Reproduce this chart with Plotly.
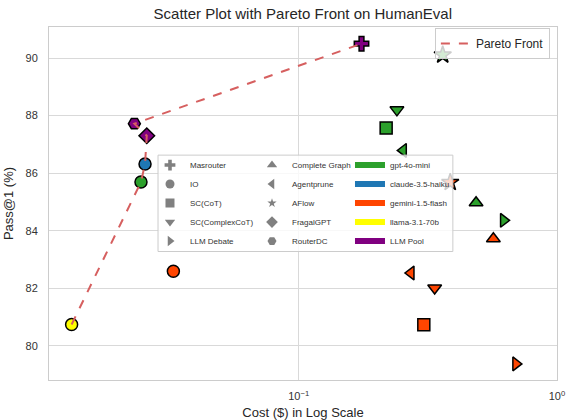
import plotly.graph_objects as go

# ---------------- data ----------------
methods = ["Masrouter", "IO", "SC(CoT)", "SC(ComplexCoT)", "LLM Debate",
           "Complete Graph", "Agentprune", "AFlow", "FragalGPT", "RouterDC"]
models = ["gpt-4o-mini", "claude-3.5-haiku", "gemini-1.5-flash", "llama-3.1-70b", "LLM Pool"]

point_method = ["Masrouter", "AFlow", "SC(ComplexCoT)", "SC(CoT)", "Agentprune",
                "AFlow", "Complete Graph", "LLM Debate", "Complete Graph", "Agentprune",
                "SC(ComplexCoT)", "SC(CoT)", "LLM Debate", "IO", "IO",
                "RouterDC", "FragalGPT", "IO", "IO"]
point_model = ["LLM Pool", "gpt-4o-mini", "gpt-4o-mini", "gpt-4o-mini", "gpt-4o-mini",
               "gemini-1.5-flash", "gpt-4o-mini", "gpt-4o-mini", "gemini-1.5-flash", "gemini-1.5-flash",
               "gemini-1.5-flash", "gemini-1.5-flash", "gemini-1.5-flash", "gemini-1.5-flash", "llama-3.1-70b",
               "LLM Pool", "LLM Pool", "claude-3.5-haiku", "gpt-4o-mini"]
point_cost = [0.175, 0.361, 0.240, 0.218, 0.254,
              0.386, 0.486, 0.621, 0.567, 0.272,
              0.336, 0.305, 0.693, 0.0327, 0.0132,
              0.0231, 0.0258, 0.0254, 0.0245]
point_pass = [90.50, 90.11, 88.20, 87.57, 86.79,
              85.68, 84.97, 84.36, 83.72, 82.53,
              82.01, 80.73, 79.37, 82.59, 80.74,
              87.72, 87.30, 86.32, 85.69]

# Pareto front members (method, model), in drawing order
pareto_method = ["IO", "IO", "IO", "FragalGPT", "RouterDC", "Masrouter"]
pareto_model = ["llama-3.1-70b", "gpt-4o-mini", "claude-3.5-haiku", "LLM Pool", "LLM Pool", "LLM Pool"]

x_tickvals = [0.1, 1]
x_ticktext = ["10<sup>−1</sup>", "10<sup>0</sup>"]
y_tickvals = [80, 82, 84, 86, 88, 90]

# ---------------- styles ----------------
symbol_map = {
    "Masrouter": "cross", "IO": "circle", "SC(CoT)": "square",
    "SC(ComplexCoT)": "triangle-down", "LLM Debate": "triangle-right",
    "Complete Graph": "triangle-up", "Agentprune": "triangle-left",
    "AFlow": "star", "FragalGPT": "diamond", "RouterDC": "hexagon2",
}
color_map = {
    "gpt-4o-mini": "#2ca02c", "claude-3.5-haiku": "#1f77b4",
    "gemini-1.5-flash": "#ff4500", "llama-3.1-70b": "#ffff00", "LLM Pool": "#800080",
}
FONT = "Arial, Liberation Sans, sans-serif"

fig = go.Figure()

# data points, one trace per method
for m in methods:
    idx = [i for i, pm in enumerate(point_method) if pm == m]
    if not idx:
        continue
    fig.add_trace(go.Scatter(
        x=[point_cost[i] for i in idx],
        y=[point_pass[i] for i in idx],
        mode="markers",
        marker=dict(symbol=symbol_map[m], size=12 if m != "AFlow" else 13,
                    color=[color_map[point_model[i]] for i in idx],
                    line=dict(color="black", width=1.5)),
        showlegend=False, hoverinfo="x+y+name", name=m,
    ))

# pareto front line
lookup = {(point_method[i], point_model[i]): i for i in range(len(point_method))}
p_idx = [lookup[(a, b)] for a, b in zip(pareto_method, pareto_model)]
fig.add_trace(go.Scatter(
    x=[point_cost[i] for i in p_idx], y=[point_pass[i] for i in p_idx],
    mode="lines", line=dict(color="#d65f5f", width=2, dash="dash"),
    name="Pareto Front", legend="legend",
))

# legend-only entries
for k, m in enumerate(methods):
    fig.add_trace(go.Scatter(
        x=[None], y=[None], mode="markers", name=m,
        marker=dict(symbol=symbol_map[m], size=9 if m != "AFlow" else 7, color="#808080"),
        legend="legend2" if k < 5 else "legend3",
    ))
for md in models:
    fig.add_trace(go.Scatter(
        x=[None], y=[None], mode="none", fill="toself", fillcolor=color_map[md],
        name=md, legend="legend4",
    ))

small_legend = dict(font=dict(size=8, family=FONT, color="#333333"),
                    bgcolor="rgba(0,0,0,0)", borderwidth=0,
                    xanchor="left", yanchor="top", tracegroupgap=0)

fig.update_layout(
    width=566, height=420,
    margin=dict(l=49, r=9, t=27, b=40, autoexpand=False),
    paper_bgcolor="white", plot_bgcolor="white",
    font=dict(family=FONT, color="#262626"),
    title=dict(text="Scatter Plot with Pareto Front on HumanEval",
               x=0.535, xanchor="center", y=0.968, yanchor="middle", yref="container",
               font=dict(size=15, family=FONT, color="#262626")),
    xaxis=dict(type="log", range=[-1.967, 0.0],
               tickvals=x_tickvals, ticktext=x_ticktext,
               showgrid=True, gridcolor="#d9d9d9", gridwidth=1,
               showline=True, mirror=True, linecolor="#cccccc", linewidth=1,
               ticks="", ticklabelstandoff=6, zeroline=False, automargin=False,
               tickfont=dict(size=11, color="#333333"),
               title=dict(text="Cost ($) in Log Scale", font=dict(size=13, color="#262626"),
                          standoff=6)),
    yaxis=dict(range=[78.81, 91.08], tickvals=y_tickvals,
               showgrid=True, gridcolor="#d9d9d9", gridwidth=1,
               showline=True, mirror=True, linecolor="#cccccc", linewidth=1,
               ticks="", ticklabelstandoff=8, zeroline=False, automargin=False,
               tickfont=dict(size=11, color="#333333"),
               title=dict(text="Pass@1 (%)", font=dict(size=13, color="#262626"),
                          standoff=8)),
    legend=dict(x=0.986, y=0.997, xanchor="right", yanchor="top",
                bgcolor="rgba(255,255,255,0.8)", bordercolor="#cccccc", borderwidth=1,
                font=dict(size=12, family=FONT, color="#262626")),
    legend2=dict(small_legend, x=0.1988, y=0.650),
    legend3=dict(small_legend, x=0.3996, y=0.650),
    legend4=dict(small_legend, x=0.5925, y=0.650),
    shapes=[dict(type="rect", xref="paper", yref="paper",
                 x0=0.2146, x1=0.795, y0=0.364, y1=0.637,
                 fillcolor="rgba(255,255,255,0.8)", line=dict(color="#cccccc", width=1),
                 layer="above")],
)

fig.write_html("out.html", config={"displayModeBar": False},
               post_script="document.body.style.margin='0';document.body.style.padding='0';")
